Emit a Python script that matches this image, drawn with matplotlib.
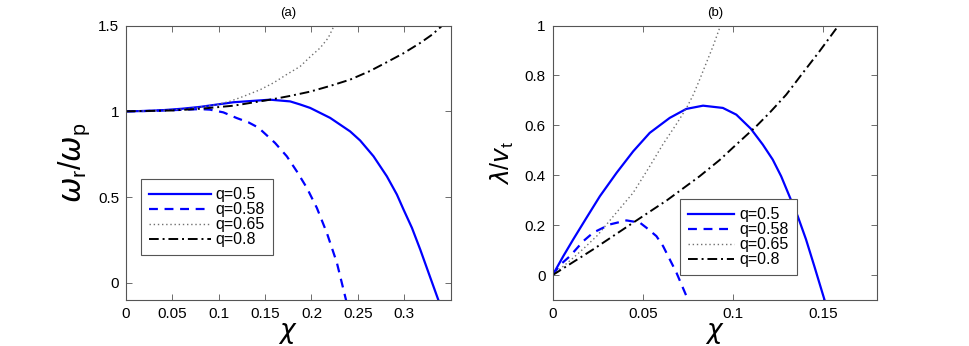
import matplotlib
matplotlib.use("Agg")
import matplotlib.pyplot as plt

plt.rcParams['font.family'] = ['Liberation Sans', 'DejaVu Sans']
plt.rcParams['mathtext.fontset'] = 'custom'
plt.rcParams['mathtext.rm'] = 'Liberation Sans'
plt.rcParams['mathtext.it'] = 'DejaVu Sans:italic'

labels = ["q=0.5", "q=0.58", "q=0.65", "q=0.8"]

# panel (a): omega_r / omega_p vs chi
a_x_05 = [0, 0.02, 0.04, 0.06, 0.08, 0.1158, 0.1554, 0.177, 0.1878, 0.1986, 0.2201, 0.2417,
          0.2525, 0.2669, 0.2813, 0.2921, 0.2993, 0.3083, 0.3173, 0.3263, 0.337]
a_y_05 = [1, 1.002, 1.007, 1.015, 1.026, 1.053, 1.068, 1.058, 1.04, 1.02, 0.962, 0.883,
          0.83, 0.738, 0.621, 0.515, 0.427, 0.321, 0.194, 0.058, -0.103]
a_x_058 = [0, 0.03, 0.06, 0.0799, 0.0906, 0.105, 0.1194, 0.132, 0.1428, 0.1607, 0.1734,
           0.1842, 0.195, 0.2058, 0.2166, 0.2274, 0.2374]
a_y_058 = [1, 1.003, 1.009, 1.013, 1.01, 0.994, 0.961, 0.936, 0.905, 0.816, 0.738,
           0.65, 0.554, 0.437, 0.291, 0.117, -0.103]
a_x_065 = [0, 0.03, 0.06, 0.0799, 0.0979, 0.1118, 0.1266, 0.1446, 0.159, 0.173, 0.1878,
           0.199, 0.2094, 0.218, 0.2245]
a_y_065 = [1, 1.003, 1.012, 1.024, 1.039, 1.058, 1.087, 1.126, 1.166, 1.214, 1.262,
           1.32, 1.37, 1.428, 1.5]
a_x_08 = [0, 0.05, 0.08, 0.116, 0.1554, 0.177, 0.1986, 0.22, 0.2417, 0.263, 0.281,
          0.299, 0.317, 0.33, 0.341]
a_y_08 = [1, 1.005, 1.015, 1.033, 1.068, 1.09, 1.115, 1.148, 1.185, 1.235, 1.286,
          1.338, 1.398, 1.447, 1.5]

# panel (b): lambda / v_t vs chi
b_x_05 = [0, 0.0059, 0.0114, 0.0188, 0.0262, 0.0355, 0.0447, 0.0539, 0.065, 0.0742, 0.0835,
          0.0945, 0.102, 0.11, 0.1167, 0.1222, 0.1269, 0.1315, 0.1361, 0.1407, 0.1453, 0.151]
b_y_05 = [0, 0.076, 0.143, 0.23, 0.316, 0.41, 0.496, 0.57, 0.63, 0.666, 0.679,
          0.67, 0.643, 0.587, 0.523, 0.463, 0.396, 0.316, 0.236, 0.143, 0.036, -0.1]
b_x_058 = [0, 0.004, 0.0096, 0.017, 0.0225, 0.0318, 0.041, 0.0484, 0.052, 0.0576, 0.0613,
           0.065, 0.0687, 0.0752]
b_y_058 = [0, 0.04, 0.076, 0.136, 0.17, 0.203, 0.219, 0.21, 0.19, 0.156, 0.116,
           0.063, 0.01, -0.1]
b_x_065 = [0, 0.01, 0.017, 0.025, 0.0336, 0.0447, 0.0539, 0.0613, 0.0687, 0.0742, 0.0779,
           0.0816, 0.0853, 0.089, 0.0927, 0.0932]
b_y_065 = [0, 0.06, 0.105, 0.16, 0.235, 0.33, 0.436, 0.525, 0.605, 0.668, 0.72,
           0.783, 0.85, 0.916, 0.99, 1.0]
b_x_08 = [0, 0.0225, 0.0447, 0.0635, 0.0816, 0.0927, 0.1, 0.113, 0.1204, 0.1297, 0.1389,
          0.1481, 0.1583]
b_y_08 = [0, 0.103, 0.21, 0.3, 0.396, 0.461, 0.51, 0.596, 0.65, 0.723, 0.81,
          0.896, 0.996]

styles = [
    dict(color="#0000ff", ls="-", lw=1.6),
    dict(color="#0000ff", ls=(0, (4, 3)), lw=1.6),
    dict(color="#707070", ls=(0, (1, 2)), lw=1.0),
    dict(color="black", ls=(0, (5, 2, 1, 2)), lw=1.4),
]

fig = plt.figure(figsize=(9.69, 3.46), dpi=100)
ax1 = fig.add_axes([0.130, 0.133, 0.335, 0.793])
ax2 = fig.add_axes([0.5704, 0.133, 0.3344, 0.793])

for xs, ys, st, lab in zip([a_x_05, a_x_058, a_x_065, a_x_08],
                           [a_y_05, a_y_058, a_y_065, a_y_08], styles, labels):
    ax1.plot(xs, ys, label=lab, **st)
for xs, ys, st, lab in zip([b_x_05, b_x_058, b_x_065, b_x_08],
                           [b_y_05, b_y_058, b_y_065, b_y_08], styles, labels):
    ax2.plot(xs, ys, label=lab, **st)

ax1.set_xlim(0, 0.35)
ax1.set_ylim(-0.1, 1.5)
ax1.set_xticks([0, 0.05, 0.1, 0.15, 0.2, 0.25, 0.3])
ax1.set_xticklabels(["0", "0.05", "0.1", "0.15", "0.2", "0.25", "0.3"])
ax1.set_yticks([0, 0.5, 1, 1.5])
ax1.set_yticklabels(["0", "0.5", "1", "1.5"])

ax2.set_xlim(0, 0.18)
ax2.set_ylim(-0.1, 1.0)
ax2.set_xticks([0, 0.05, 0.1, 0.15])
ax2.set_xticklabels(["0", "0.05", "0.1", "0.15"])
ax2.set_yticks([0, 0.2, 0.4, 0.6, 0.8, 1])
ax2.set_yticklabels(["0", "0.2", "0.4", "0.6", "0.8", "1"])

for ax, title in [(ax1, "(a)"), (ax2, "(b)")]:
    ax.tick_params(direction="in", top=True, right=True, length=4,
                   labelsize=11, width=0.6, color="#555555", pad=5)
    for s in ax.spines.values():
        s.set_color("#555555")
        s.set_linewidth(0.8)
    ax.set_title(title, fontsize=9.5, pad=7)
    ax.set_xlabel(r"$\chi$", fontsize=19, labelpad=0)

ax1.set_ylabel(r"$\omega_{\mathrm{r}}/\omega_{\mathrm{p}}$", fontsize=22, labelpad=4)
ax2.set_ylabel(r"$\lambda/v_{\mathrm{t}}$", fontsize=18, labelpad=6)

leg_kw = dict(fontsize=11.5, fancybox=False, edgecolor="#555555", framealpha=1,
              handletextpad=0.3, labelspacing=0.0, borderpad=0.5, borderaxespad=0)
l1 = ax1.legend(loc="upper left", bbox_to_anchor=(0.045, 0.44), handlelength=3.9, **leg_kw)
l2 = ax2.legend(loc="upper left", bbox_to_anchor=(0.393, 0.367), handlelength=2.9, **leg_kw)
for l in (l1, l2):
    l.get_frame().set_linewidth(0.8)

fig.savefig("out.png", dpi=100)
